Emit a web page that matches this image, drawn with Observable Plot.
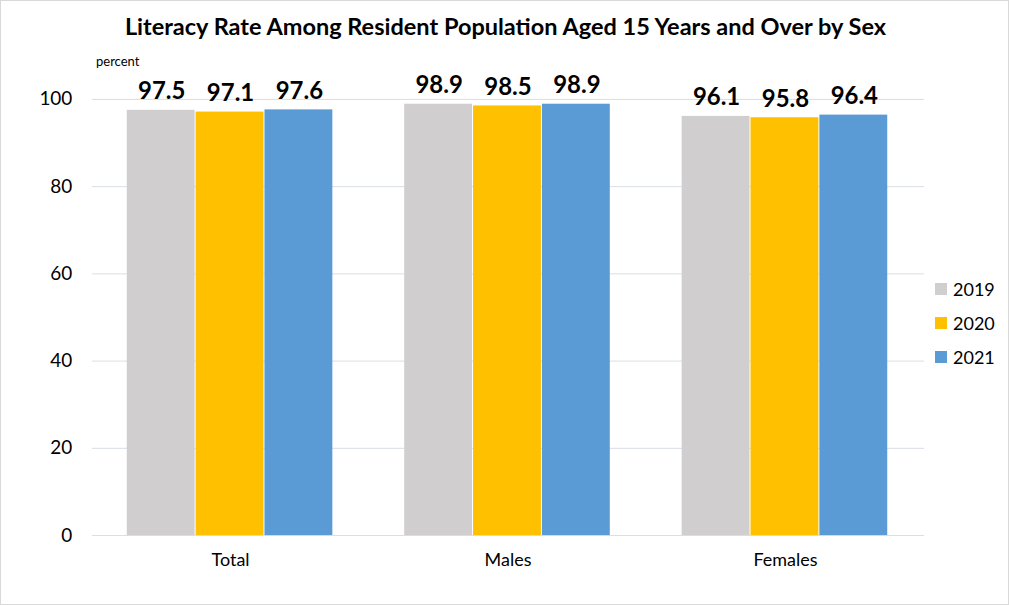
<!DOCTYPE html>
<html>
<head>
<meta charset="utf-8">
<script src="https://cdn.jsdelivr.net/npm/d3@7"></script>
<script src="https://cdn.jsdelivr.net/npm/@observablehq/plot@0.6"></script>
<style>
  html, body { margin: 0; padding: 0; background: #fff; }
  #wrap { position: relative; width: 1007px; height: 603px; border: 1px solid #D9D9D9; overflow: hidden; font-family: Lato, "Open Sans", sans-serif; }
  #title { position: absolute; left: 0; top: 11px; width: 1009px; text-align: center; font-weight: bold; font-size: 23.5px; color: #000; }
  #unit { position: absolute; left: 95px; top: 52px; font-size: 13px; color: #000; }
  #chart { position: absolute; left: 0px; top: 54px; }
  #legend { position: absolute; left: 934px; top: 271px; font-size: 18px; }
  .item { display: flex; align-items: center; height: 34px; }
  .sw { width: 12px; height: 12px; margin-right: 6px; }
</style>
</head>
<body>
<div id="wrap">
  <div id="title">Literacy Rate Among Resident Population Aged 15 Years and Over by Sex</div>
  <div id="unit">percent</div>
  <div id="chart"></div>
  <div id="legend"></div>
</div>
<script>
const categories = ["Total", "Males", "Females"];
const years = ["2019", "2020", "2021"];
const v2019 = [97.5, 98.9, 96.1];
const v2020 = [97.1, 98.5, 95.8];
const v2021 = [97.6, 98.9, 96.4];
const yTicks = [0, 20, 40, 60, 80, 100];
const colors = ["#D0CECE", "#FFC000", "#5B9BD5"];

const series = [v2019, v2020, v2021];
const data = [];
years.forEach((yr, i) => categories.forEach((c, j) => data.push({cat: c, year: yr, value: series[i][j]})));

const bw = 207, step = 69;
const marks = [
  Plot.gridY(yTicks, {stroke: "#D9DEE6", strokeOpacity: 1, strokeWidth: 1})
];
years.forEach((yr, i) => {
  const d = data.filter(r => r.year === yr);
  marks.push(Plot.barY(d, {x: "cat", y: "value", fill: colors[i],
    insetLeft: i * step, insetRight: bw - (i * step + step - 1)}));
  marks.push(Plot.text(d, {x: "cat", y: "value", text: r => r.value.toFixed(1),
    dx: (i - 1) * step, dy: -11, lineAnchor: "bottom", fontSize: 24, fontWeight: "bold", fill: "#000"}));
});
marks.push(Plot.axisX({tickSize: 0, tickPadding: 18, fontSize: 18, fill: "#000"}));
marks.push(Plot.axisY(yTicks, {tickSize: 0, tickPadding: 20, fontSize: 19, fill: "#000"}));

const chart = Plot.plot({
  width: 1009,
  height: 551,
  marginTop: 44,
  marginBottom: 70,
  marginLeft: 91,
  marginRight: 84,
  style: {fontFamily: "Lato, 'Open Sans', sans-serif", color: "#000", background: "transparent"},
  x: {domain: categories, paddingInner: 0.255, paddingOuter: 0.1275, label: null},
  y: {domain: [0, 100], label: null},
  marks
});
document.getElementById("chart").appendChild(chart);

const leg = document.getElementById("legend");
years.forEach((yr, i) => {
  const it = document.createElement("div");
  it.className = "item";
  it.innerHTML = `<span class="sw" style="background:${colors[i]}"></span><span>${yr}</span>`;
  leg.appendChild(it);
});
</script>
</body>
</html>
